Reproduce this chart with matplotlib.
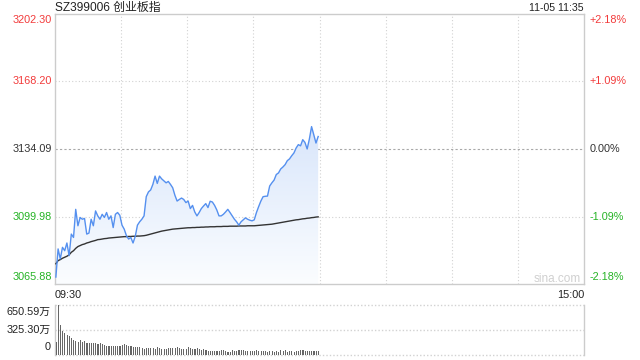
import numpy as np
import matplotlib
matplotlib.use("Agg")
import matplotlib.pyplot as plt
from matplotlib.patches import Polygon
from matplotlib.colors import LinearSegmentedColormap

# ---------------- data ----------------
title = "SZ399006 创业板指"
stamp = "11-05 11:35"
prev_close = 3134.09
price_ticks = [3202.30, 3168.20, 3134.09, 3099.98, 3065.88]
pct_ticks = ["+2.18%", "+1.09%", "0.00%", "-1.09%", "-2.18%"]
vol_ticks = [650.59, 325.30, 0]
vol_tick_labels = ["650.59万", "325.30万", "0"]
time_labels = ["09:30", "15:00"]

prices = [3069.4, 3083.6, 3078.6, 3084.4, 3082.7, 3086.6, 3080.2, 3091.1, 3089.4, 3103.6,
          3095.3, 3099.5, 3098.6, 3099.0, 3091.1, 3091.6, 3098.6, 3095.3, 3102.8, 3100.3,
          3098.6, 3101.1, 3099.5, 3102.0, 3098.6, 3100.3, 3094.4, 3101.1, 3102.0, 3100.6,
          3095.6, 3093.6, 3090.3, 3088.6, 3089.4, 3086.6, 3089.9, 3095.6, 3097.3, 3098.6,
          3100.3, 3110.0, 3112.4, 3113.4, 3116.2, 3120.4, 3116.7, 3120.4, 3119.0, 3118.0,
          3117.0, 3117.7, 3116.2, 3114.5, 3110.7, 3107.8, 3108.6, 3109.3, 3108.6, 3107.0,
          3107.8, 3104.0, 3105.6, 3102.3, 3100.3, 3102.0, 3104.0, 3105.3, 3106.5, 3104.5,
          3107.7, 3107.3, 3105.6, 3103.3, 3100.3, 3100.3, 3101.1, 3102.3, 3103.6, 3102.0,
          3100.3, 3098.6, 3097.3, 3095.6, 3097.3, 3098.3, 3099.3, 3098.6, 3098.1, 3097.8,
          3098.3, 3102.0, 3105.0, 3107.8, 3110.0, 3110.2, 3110.3, 3115.4, 3117.0, 3118.4,
          3121.2, 3122.0, 3124.0, 3125.0, 3126.2, 3128.2, 3129.1, 3130.7, 3132.1, 3134.6,
          3136.3, 3135.7, 3138.8, 3137.4, 3134.1, 3139.1, 3145.4, 3141.3, 3137.1, 3140.4]

avg_prices = [3076.1, 3077.7, 3078.2, 3078.9, 3079.4, 3079.9, 3080.6, 3081.9, 3082.7, 3083.9,
              3084.8, 3085.3, 3085.8, 3086.1, 3086.6, 3086.9, 3087.3, 3087.6, 3087.9, 3088.3,
              3088.4, 3088.6, 3088.8, 3088.9, 3089.1, 3089.2, 3089.3, 3089.4, 3089.5, 3089.6,
              3089.7, 3089.8, 3089.8, 3089.9, 3089.9, 3090.0, 3090.0, 3090.1, 3090.1, 3090.2,
              3090.3, 3090.5, 3090.8, 3091.1, 3091.4, 3091.7, 3092.0, 3092.3, 3092.6, 3092.8,
              3093.0, 3093.2, 3093.4, 3093.6, 3093.7, 3093.8, 3093.9, 3094.0, 3094.1, 3094.2,
              3094.3, 3094.3, 3094.4, 3094.4, 3094.5, 3094.5, 3094.6, 3094.6, 3094.7, 3094.7,
              3094.8, 3094.8, 3094.8, 3094.9, 3094.9, 3094.9, 3095.0, 3095.0, 3095.0, 3095.1,
              3095.1, 3095.1, 3095.1, 3095.2, 3095.2, 3095.2, 3095.2, 3095.3, 3095.3, 3095.3,
              3095.3, 3095.4, 3095.5, 3095.6, 3095.7, 3095.8, 3095.9, 3096.0, 3096.1, 3096.3,
              3096.5, 3096.7, 3096.9, 3097.1, 3097.3, 3097.5, 3097.7, 3097.9, 3098.1, 3098.3,
              3098.4, 3098.6, 3098.8, 3098.9, 3099.1, 3099.2, 3099.4, 3099.5, 3099.7, 3099.8]

volumes = [173, 650.59, 390, 316, 282, 260, 247, 217, 195, 186,
           173, 195, 173, 186, 152, 152, 152, 152, 152, 143,
           152, 143, 130, 117, 117, 117, 117, 117, 117, 117,
           130, 143, 130, 117, 117, 100, 100, 100, 100, 87,
           74, 87, 87, 87, 87, 74, 100, 87, 74, 74,
           74, 87, 87, 87, 87, 100, 87, 74, 74, 74,
           100, 87, 74, 74, 87, 74, 65, 74, 65, 56,
           52, 52, 52, 52, 56, 65, 65, 52, 43, 43,
           65, 52, 52, 65, 65, 65, 52, 52, 52, 52,
           52, 65, 52, 52, 52, 52, 43, 52, 52, 43,
           52, 43, 65, 52, 65, 43, 52, 52, 43, 52,
           52, 65, 65, 52, 52, 52, 52, 52, 52, 52]

total_minutes = 240
grid_minutes = [30, 60, 90, 120, 150, 180, 210]

# ---------------- style ----------------
W, H = 640, 360
RED = "#f23b3b"
GREEN = "#25b325"
DARK = "#333333"
LINE = "#5590ef"
GRID = "#d2d2d2"
FONT = ["Liberation Sans", "Noto Sans CJK SC", "DejaVu Sans"]
plt.rcParams["font.family"] = FONT


def fx(px):
    return px / W


def fy(py):
    return 1 - py / H


fig = plt.figure(figsize=(6.4, 3.6), dpi=100)
fig.patch.set_facecolor("white")

L, R = 55, 584
T, B = 14, 284
VT, VB = 305, 355

ax = fig.add_axes([fx(L), fy(B), fx(R) - fx(L), fy(T) - fy(B)])
axv = fig.add_axes([fx(L), fy(VB), fx(R) - fx(L), fy(VT) - fy(VB)])

ymin, ymax = price_ticks[-1], price_ticks[0]
ax.set_xlim(0, total_minutes)
ax.set_ylim(ymin, ymax)
ax.set_xticks([])
ax.set_yticks([])
for s in ax.spines.values():
    s.set_color("#cccccc")
    s.set_linewidth(1.0)

# grid
for gm in grid_minutes:
    ax.axvline(gm, color=GRID, lw=0.8, ls=(0, (1, 2)), zorder=1)
for pv in price_ticks[1:-1]:
    if abs(pv - prev_close) < 1e-6:
        ax.axhline(pv, color="#a8a8a8", lw=0.8, ls=(0, (2, 2)), zorder=1)
    else:
        ax.axhline(pv, color=GRID, lw=0.8, ls=(0, (1, 2)), zorder=1)

x = np.arange(len(prices)) + 0.4
p = np.array(prices)

# gradient fill below the line
verts = [(x[0], ymin)] + list(zip(x, p)) + [(x[-1], ymin)]
poly = Polygon(verts, closed=True, facecolor="none", edgecolor="none")
ax.add_patch(poly)
top = p.max()
grad = np.linspace(1, 0, 256).reshape(-1, 1)
cmap = LinearSegmentedColormap.from_list("g", ["#fbfdff", "#d9e6fb"])
im = ax.imshow(grad, extent=[x[0], x[-1], ymin, top], aspect="auto",
               cmap=cmap, origin="upper", zorder=2, interpolation="bilinear")
im.set_clip_path(poly)

ax.plot(x, p, color=LINE, lw=1.0, zorder=4)
ax.plot(x, avg_prices, color=DARK, lw=1.0, zorder=3)

# watermark
fig.text(fx(581), fy(279.5), "sina.com", ha="right", va="center",
         fontsize=8.5, color="#d0d0d0")

# price labels
colors = [RED, RED, DARK, GREEN, GREEN]
for i, (pv, pc, c) in enumerate(zip(price_ticks, pct_ticks, colors)):
    ypx = T + (ymax - pv) / (ymax - ymin) * (B - T)
    if i == 0:
        va, ypx = "top", ypx + 1
    elif i == len(price_ticks) - 1:
        va, ypx = "bottom", ypx - 2
    else:
        va = "center"
    fig.text(fx(52), fy(ypx), f"{pv:.2f}", ha="right", va=va, fontsize=7.8, color=c)
    fig.text(fx(590), fy(ypx), pc, ha="left", va=va, fontsize=7.8, color=c)

# title and stamp
fig.text(fx(55), fy(7.5), title, ha="left", va="center", fontsize=8.6, color="#222222")
fig.text(fx(584), fy(8), stamp, ha="right", va="center", fontsize=7.6, color="#222222")

# time labels
fig.text(fx(55), fy(294.5), time_labels[0], ha="left", va="center", fontsize=7.8, color="#222222")
fig.text(fx(584), fy(294.5), time_labels[1], ha="right", va="center", fontsize=7.8, color="#222222")

# volume pane
vmax = vol_ticks[0]
axv.set_xlim(0, total_minutes)
axv.set_ylim(0, vmax)
axv.set_xticks([])
axv.set_yticks([])
for side in ["top", "bottom"]:
    axv.spines[side].set_visible(False)
for side in ["left", "right"]:
    axv.spines[side].set_color("#cccccc")
    axv.spines[side].set_linewidth(1.0)
for vv in vol_ticks:
    axv.axhline(vv, color=GRID, lw=1.0, ls=(0, (1, 1.5)), zorder=1, clip_on=False)
axv.bar(np.arange(len(volumes)) + 0.5, volumes, width=0.5, color="#666666", zorder=3, linewidth=0)

for i, (vv, lab) in enumerate(zip(vol_ticks, vol_tick_labels)):
    ypx = VT + (vmax - vv) / vmax * (VB - VT)
    if i == 0:
        va, ypx = "top", ypx + 2
    elif i == len(vol_ticks) - 1:
        va, ypx = "bottom", ypx - 3
    else:
        va = "center"
    fig.text(fx(51), fy(ypx), lab, ha="right", va=va, fontsize=7.8, color="#222222")

fig.savefig("out.png", dpi=100, facecolor="white")
